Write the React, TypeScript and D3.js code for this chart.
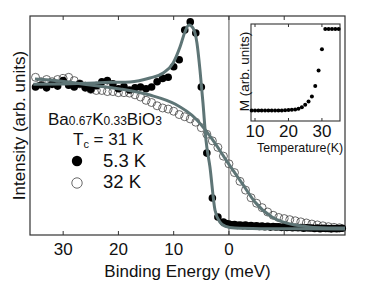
import React from "react";
import * as d3 from "d3";

// Main panel: binding energy (meV) vs intensity (arb. units)
const energyTicks = [30, 20, 10, 0, -10];
const energyTickLabels = ["30", "20", "10", "0", ""];

// 5.3 K (filled circles)
const coldE = [35, 34, 33, 32, 31, 30, 29, 28, 27, 26, 25, 24, 23, 22, 21, 20, 19, 18, 17, 16, 15, 14, 13, 12, 11, 10, 9, 8, 7, 6, 5, 4, 3, 2, 1,
  0.5, 0, -0.5, -1, -1.5, -2, -2.5, -3, -3.5, -4, -4.5, -5, -5.5, -6, -6.5, -7, -7.5, -8, -8.5, -9, -9.5, -10, -10.5, -11, -11.5, -12, -12.5, -13, -13.5, -14, -14.5, -15, -15.5, -16, -16.5, -17, -17.5, -18, -18.5, -19, -19.5, -20, -20.5];
const coldI = [0.676, 0.685, 0.672, 0.688, 0.68, 0.705, 0.684, 0.676, 0.69, 0.672, 0.665, 0.682, 0.7, 0.705, 0.69, 0.668, 0.678, 0.662, 0.672, 0.676, 0.668, 0.676, 0.7, 0.715, 0.72, 0.768, 0.8, 0.936, 0.973, 0.922, 0.676, 0.374, 0.169, 0.082, 0.059,
  0.052, 0.05, 0.047, 0.048, 0.044, 0.046, 0.043, 0.045, 0.041, 0.043, 0.04, 0.042, 0.039, 0.041, 0.038, 0.04, 0.036, 0.039, 0.037, 0.038, 0.035, 0.037, 0.034, 0.036, 0.033, 0.035, 0.033, 0.034, 0.031, 0.033, 0.032, 0.032, 0.03, 0.032, 0.029, 0.031, 0.03, 0.03, 0.028, 0.03, 0.029, 0.03, 0.031];

// 32 K (open circles)
const warmE = [35, 34, 33, 32, 31, 30, 29, 28, 27, 26, 25, 24, 23, 22, 21, 20, 19, 18, 17, 16, 15, 14, 13, 12, 11, 10, 9, 8, 7, 6, 5, 4, 3, 2, 1, 0,
  -1, -2, -3, -4, -5, -6, -7, -8, -9, -10, -11, -12, -13, -14, -15, -16, -17, -18, -19, -20];
const warmI = [0.72, 0.70, 0.71, 0.70, 0.71, 0.715, 0.72, 0.705, 0.69, 0.68, 0.665, 0.66, 0.66, 0.655, 0.655, 0.65, 0.65, 0.648, 0.64, 0.63, 0.615, 0.605, 0.59, 0.58, 0.575, 0.565, 0.55, 0.54, 0.53, 0.515, 0.49, 0.46, 0.43, 0.40, 0.36, 0.325,
  0.285, 0.245, 0.205, 0.17, 0.145, 0.125, 0.105, 0.09, 0.08, 0.075, 0.07, 0.065, 0.06, 0.055, 0.05, 0.046, 0.042, 0.038, 0.035, 0.033];

// Fit curves
const coldFitE = [35.4, 30, 26.9, 21.5, 17.9, 14.3, 11.9, 10.1, 8.86, 7.96, 7.23, 6.51, 5.79, 5.24, 4.7, 4.16, 3.44, 2.53, 1.63, 0.72, -1.08, -6, -12, -21];
const coldFitI = [0.688, 0.69, 0.692, 0.697, 0.699, 0.717, 0.74, 0.785, 0.858, 0.927, 0.959, 0.945, 0.877, 0.753, 0.603, 0.434, 0.311, 0.114, 0.059, 0.041, 0.032, 0.029, 0.028, 0.027];

const warmFitE = [35.1, 30.6, 25.1, 19.7, 14.3, 9.76, 6.15, 3.98, 2.53, 0.18, -2.35, -4.7, -7.78, -11.9, -17.9, -21];
const warmFitI = [0.712, 0.703, 0.685, 0.667, 0.639, 0.598, 0.534, 0.47, 0.42, 0.329, 0.237, 0.151, 0.082, 0.046, 0.032, 0.032];

// Inset: magnetization vs temperature
const tempTicks = [10, 20, 30];
const insetT = [9, 10, 11, 12, 13, 14, 15, 16, 17, 18, 19, 20, 21, 22, 23, 24, 25, 26, 27, 28, 29, 30, 31, 32, 33, 34, 35];
const insetM = [0, 0, 0, 0, 0, 0, 0, 0, 0, 0, 0.003, 0.005, 0.008, 0.012, 0.02, 0.04, 0.07, 0.11, 0.17, 0.30, 0.49, 0.75, 1.0, 1.0, 1.0, 1.0, 1.0];

const FONT = "'Liberation Sans', Arial, Helvetica, sans-serif";
const FIT_COLOR = "#5e7576";
const AX = "#333";

export default function App() {
  const x = d3.scaleLinear().domain([36, -21]).range([30, 345]);
  const y = d3.scaleLinear().domain([0, 1]).range([235, 16]);
  const ix = d3.scaleLinear().domain([8.8, 35.4]).range([251, 340]);
  const iy = d3.scaleLinear().domain([-0.13, 1.06]).range([121, 24]);

  const line = d3.line<[number, number]>().x(d => x(d[0])).y(d => y(d[1])).curve(d3.curveMonotoneX);
  const coldFit = line(coldFitE.map((e, i) => [e, coldFitI[i]]) as [number, number][]) || "";
  const warmFit = line(warmFitE.map((e, i) => [e, warmFitI[i]]) as [number, number][]) || "";

  const [x0, x1] = x.range();
  const [y0, y1] = y.range();

  return (
    <svg width={382} height={284} style={{ display: "block", position: "absolute", left: 0, top: 0 }} fontFamily={FONT}>
      <rect x={0} y={0} width={382} height={284} fill="#fff" />
      {/* zero line */}
      <line x1={x(0)} x2={x(0)} y1={y1} y2={y0} stroke="#555" strokeWidth={1} />
      {/* frame */}
      <rect x={x0} y={y1} width={x1 - x0} height={y0 - y1} fill="none" stroke={AX} strokeWidth={1.2} />
      {energyTicks.map((t, i) => (
        <g key={"t" + i}>
          <line x1={x(t)} x2={x(t)} y1={y0} y2={y0 - 4} stroke={AX} strokeWidth={1} />
          <line x1={x(t)} x2={x(t)} y1={y1} y2={y1 + 4} stroke={AX} strokeWidth={1} />
          <text x={x(t)} y={254.5} textAnchor="middle" fontSize={17} fill="#111">{energyTickLabels[i]}</text>
        </g>
      ))}
      <text x={(x0 + x1) / 2} y={277} textAnchor="middle" fontSize={17} fill="#111">Binding Energy (meV)</text>
      <text transform={`translate(25,${(y0 + y1) / 2}) rotate(-90)`} textAnchor="middle" fontSize={17} fill="#111">Intensity (arb. units)</text>

      {/* data */}
      {warmE.map((e, i) => (
        <circle key={"w" + i} cx={x(e)} cy={y(warmI[i])} r={4} fill="none" stroke="#444" strokeWidth={0.8} />
      ))}
      {coldE.map((e, i) => (
        <circle key={"c" + i} cx={x(e)} cy={y(coldI[i])} r={3.8} fill="#000" />
      ))}
      <path d={warmFit} fill="none" stroke={FIT_COLOR} strokeWidth={3} />
      <path d={coldFit} fill="none" stroke={FIT_COLOR} strokeWidth={3} />

      {/* legend */}
      <text x={48} y={125} fontSize={17} fill="#111">
        Ba<tspan fontSize={12}>0.67</tspan>K<tspan fontSize={12}>0.33</tspan>BiO<tspan fontSize={12}>3</tspan>
      </text>
      <text x={73} y={145} fontSize={17} fill="#111">
        T<tspan fontSize={11} dy={3}>c</tspan><tspan dy={-3}> = 31 K</tspan>
      </text>
      <circle cx={77} cy={161} r={5.2} fill="#000" />
      <text x={103} y={167} fontSize={18.5} fill="#111">5.3 K</text>
      <circle cx={77} cy={183} r={5.2} fill="none" stroke="#444" strokeWidth={0.8} />
      <text x={103} y={188} fontSize={18.5} fill="#111">32 K</text>

      {/* inset */}
      <rect x={ix.range()[0]} y={iy.range()[1]} width={ix.range()[1] - ix.range()[0]} height={iy.range()[0] - iy.range()[1]} fill="none" stroke={AX} strokeWidth={1.1} />
      {tempTicks.map(t => (
        <g key={"it" + t}>
          <line x1={ix(t)} x2={ix(t)} y1={iy.range()[0]} y2={iy.range()[0] - 3} stroke={AX} />
          <line x1={ix(t)} x2={ix(t)} y1={iy.range()[1]} y2={iy.range()[1] + 3} stroke={AX} />
          <text x={ix(t)} y={136.5} textAnchor="middle" fontSize={17} fill="#111">{t}</text>
        </g>
      ))}
      {insetT.map((t, i) => (
        <circle key={"m" + i} cx={ix(t)} cy={iy(insetM[i])} r={2} fill="#000" />
      ))}
      <text x={300} y={151.5} textAnchor="middle" fontSize={12.4} fill="#111">Temperature(K)</text>
      <text transform={`translate(249,71.5) rotate(-90)`} textAnchor="middle" fontSize={13.5} fill="#111">M (arb. units)</text>
    </svg>
  );
}
